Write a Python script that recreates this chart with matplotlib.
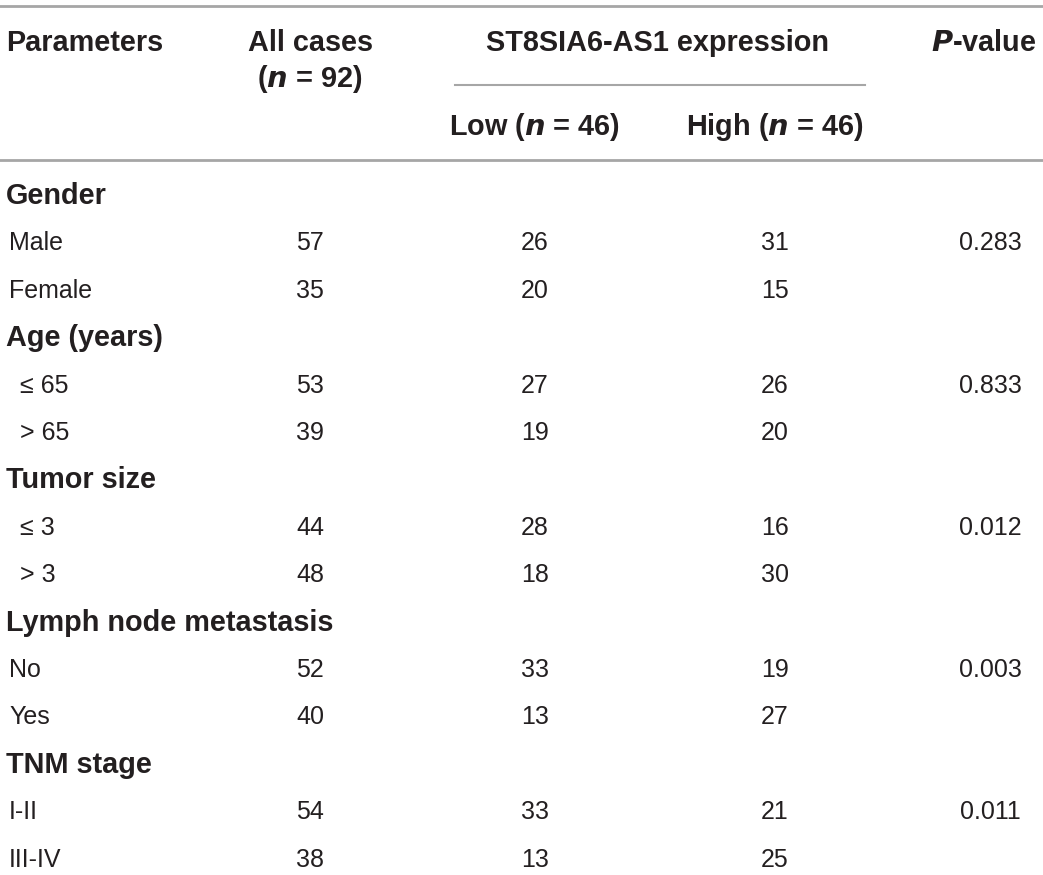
import matplotlib.pyplot as plt

# table contents
groups = ["Gender", "Age (years)", "Tumor size", "Lymph node metastasis", "TNM stage"]
levels = [["Male", "Female"], ["≤ 65", "> 65"], ["≤ 3", "> 3"], ["No", "Yes"], ["I-II", "III-IV"]]
all_cases = [[57, 35], [53, 39], [44, 48], [52, 40], [54, 38]]
low_expr = [[26, 20], [27, 19], [28, 18], [33, 13], [33, 13]]
high_expr = [[31, 15], [26, 20], [16, 30], [19, 27], [21, 25]]
p_values = ["0.283", "0.833", "0.012", "0.003", "0.011"]

W, H = 1043, 875
fig = plt.figure(figsize=(W / 100, H / 100), dpi=100)
ax = fig.add_axes([0, 0, 1, 1])
ax.set_xlim(0, W)
ax.set_ylim(H, 0)
ax.axis("off")

plt.rcParams["font.family"] = ["Liberation Sans", "DejaVu Sans"]
txt = "#231f20"
line_c = "#a6a6a6"
fs = 18
fsb = 20.8

x_par, x_all, x_low, x_high, x_p = 6, 310, 535, 775, 990

# rules
ax.plot([0, W], [6, 6], color=line_c, lw=2)
ax.plot([0, W], [160, 160], color=line_c, lw=2)
ax.plot([455, 865], [85, 85], color=line_c, lw=1.5)

# header
hd = dict(fontsize=fsb, fontweight="bold", color=txt, va="center")
ax.text(x_par, 43, "Parameters", ha="left", **hd)
ax.text(x_all, 43, "All cases", ha="center", **hd)
ax.text(x_all, 79, r"($\mathbfit{n}$ = 92)", ha="center", **hd)
ax.text(658, 43, "ST8SIA6-AS1 expression", ha="center", **hd)
ax.text(x_low, 127, r"Low ($\mathbfit{n}$ = 46)", ha="center", **hd)
ax.text(x_high, 127, r"High ($\mathbfit{n}$ = 46)", ha="center", **hd)
ax.text(W - 6, 43, r"$\mathbfit{P}$-value", ha="right", **hd)

# body
body = dict(fontsize=fs, color=txt, va="center")
y = 196
step = 47.4
for g, lv, a, lo, hi, p in zip(groups, levels, all_cases, low_expr, high_expr, p_values):
    ax.text(x_par, y, g, ha="left", fontweight="bold", fontsize=fsb, color=txt, va="center")
    y += step
    for i in range(2):
        ax.text(x_par + (14 if lv[i][0] in "≤>" else 3), y, lv[i], ha="left", **body)
        ax.text(x_all, y, str(a[i]), ha="center", **body)
        ax.text(x_low, y, str(lo[i]), ha="center", **body)
        ax.text(x_high, y, str(hi[i]), ha="center", **body)
        if i == 0:
            ax.text(x_p, y, p, ha="center", **body)
        y += step

fig.savefig("out.png", dpi=100)
